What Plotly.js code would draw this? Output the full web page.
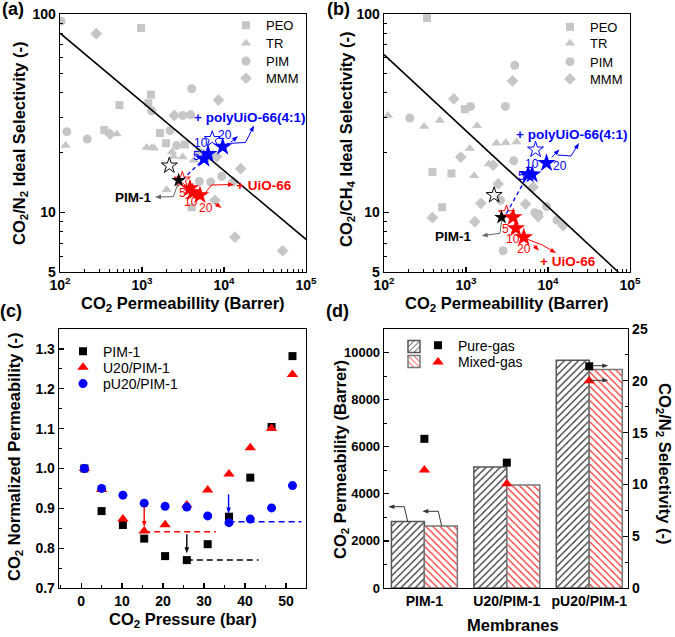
<!DOCTYPE html>
<html><head><meta charset="utf-8">
<script src="https://cdn.plot.ly/plotly-3.0.1.min.js"></script>
<style>body{margin:0;background:#fff;} #chart{width:675px;height:637px;}</style>
</head><body><div id="chart"></div>
<script>
const W = 675, H = 637;
const F = 'Arial, "Liberation Sans", sans-serif';

// ---------- Panel (a): CO2/N2 ----------
const aPEOx = [973, 1288, 530, 347, 1660, 1963, 3342, 1194, 4036];
const aPEOy = [85, 39.2, 34.7, 26, 25.1, 22.3, 22, 35.5, 10.6];
const aTRx = [117, 491, 1140, 1310, 1400, 2323, 2420, 3133, 2000, 4300];
const aTRy = [21.7, 24.8, 21.2, 21.1, 21.1, 20.2, 19.1, 19, 13, 18.3];
const aPIMx = [103, 4036, 3133, 3918, 121, 215, 2193, 2648, 1312, 5000, 6870, 9370, 6200, 5000];
const aPIMy = [92, 42, 30.8, 31, 25.5, 23.4, 25.8, 21.7, 32.5, 14.3, 14.2, 15.2, 18.8, 20];
const aMMMx = [277, 8531, 2477, 407, 8147, 15970, 13000, 7760, 13600, 51900];
const aMMMy = [79.6, 36.8, 30.8, 24.8, 19.1, 16.6, 14.3, 11.5, 7.5, 6.4];
const aBoundX = [100, 100000];
const aBoundY = [80, 7.3];
const aPIM1x = [2800], aPIM1y = [14.5];
const aRefOpenX = [2154], aRefOpenY = [17.2];
const aUiOOpenX = [3105], aUiOOpenY = [14.6];
const aUiOx = [3844, 4147, 5093], aUiOy = [13.2, 12.6, 12.2];
const aPolyOpenX = [7190], aPolyOpenY = [23.4];
const aPolyX = [5700, 6390, 9640], aPolyY = [18.6, 19.7, 21.4];
const aDashX = [3105, 5700], aDashY = [14.6, 18.6];

// ---------- Panel (b): CO2/CH4 ----------
const bPEOx = [335, 966, 389, 664, 511];
const bPEOy = [95.4, 33.1, 16, 15.7, 10.6];
const bTRx = [112, 308, 478, 1365, 2350, 3055, 4130, 1112, 1897, 1256];
const bTRy = [30.8, 27.1, 29, 27.3, 22.3, 22.4, 22.6, 21, 17.5, 15.3];
const bPIMx = [3936, 1133, 3027, 206, 3826, 2635, 9590, 6920, 7730, 12900, 2838];
const bPIMy = [55.1, 34.2, 34.2, 29.9, 18.2, 11.5, 10.7, 9.96, 9.8, 9.15, 6.4];
const bMMMx = [3690, 710, 863, 2142, 2468, 6590, 1516, 5320, 7590, 389, 1280, 15300];
const bMMMy = [46, 37.3, 19, 17.3, 13.9, 13.4, 11.1, 11, 9.5, 9.4, 8.97, 8.57];
const bBoundX = [100, 71900];
const bBoundY = [62.4, 5];
const bPIM1x = [2710], bPIM1y = [9.44];
const bRefOpenX = [2203], bRefOpenY = [12.2];
const bUiOOpenX = [3118], bUiOOpenY = [9.88];
const bUiOx = [3760, 4050, 5070], bUiOy = [9.44, 8.3, 7.48];
const bPolyOpenX = [7050], bPolyOpenY = [20.7];
const bPolyX = [5730, 6410, 9590], bPolyY = [15.5, 15.5, 17.7];
const bDashX = [3118, 5730], bDashY = [9.88, 15.5];

// ---------- Panel (c): normalized permeability ----------
const pressure = [0.8, 5.0, 10.2, 15.4, 20.5, 25.8, 30.9, 36.1, 41.3, 46.5, 51.6];
const cPIM1 = [1.000, 0.893, 0.858, 0.824, 0.780, 0.770, 0.810, 0.879, 0.977, 1.104, 1.282];
const cU20 = [1.000, 0.947, 0.873, 0.843, 0.859, 0.908, 0.946, 0.986, 1.052, 1.100, 1.236];
const cPU20 = [1.000, 0.950, 0.933, 0.913, 0.905, 0.903, 0.881, 0.864, 0.873, 0.901, 0.957];
const cRedDashX = [15.4, 32.9], cRedDashY = [0.841, 0.841];
const cBlkDashX = [25.8, 43.3], cBlkDashY = [0.770, 0.770];
const cBluDashX = [36.0, 53.8], cBluDashY = [0.866, 0.866];
// vertical arrows: pressure, start value, end value
const cRedArrow = [15.4, 0.902, 0.853];
const cBlkArrow = [25.8, 0.835, 0.787];
const cBluArrow = [36.0, 0.935, 0.887];

// ---------- Panel (d): pure vs mixed gas ----------
const membranes = ['PIM-1', 'U20/PIM-1', 'pU20/PIM-1'];
const purePerm = [2827, 5136, 9677];
const mixedPerm = [2632, 4372, 9278];
const pureSel = [14.4, 12.1, 21.4];
const mixedSel = [11.4, 10.06, 20.0];

const GRAY = '#c6c6c6';
const data = [];

function gray(x, y, xa, ya, sym, size, name, leg) {
  data.push({type: 'scatter', mode: 'markers', x: x, y: y, xaxis: xa, yaxis: ya, name: name,
    legend: leg, showlegend: true,
    marker: {symbol: sym, size: size, color: GRAY}});
}
function line(x, y, xa, ya, color, dash, width) {
  data.push({type: 'scatter', mode: 'lines', x: x, y: y, xaxis: xa, yaxis: ya, showlegend: false,
    line: {color: color, dash: dash, width: width}});
}
function pts(x, y, xa, ya, sym, size, color, lw) {
  data.push({type: 'scatter', mode: 'markers', x: x, y: y, xaxis: xa, yaxis: ya, showlegend: false,
    marker: {symbol: sym, size: size, color: color, line: {color: color, width: lw || 0}}});
}

// (a)
gray(aPEOx, aPEOy, 'x', 'y', 'square', 8, 'PEO', 'legend');
gray(aTRx, aTRy, 'x', 'y', 'triangle-up', 9, 'TR', 'legend2');
gray(aPIMx, aPIMy, 'x', 'y', 'circle', 9, 'PIM', 'legend3');
gray(aMMMx, aMMMy, 'x', 'y', 'diamond', 9, 'MMM', 'legend4');
line(aBoundX, aBoundY, 'x', 'y', '#000', 'solid', 1.6);
line(aDashX, aDashY, 'x', 'y', '#0000ff', '4px,3px', 1.3);
pts(aRefOpenX, aRefOpenY, 'x', 'y', 'star-open', 12, '#000', 1);
pts(aPolyOpenX, aPolyOpenY, 'x', 'y', 'star-open', 12, '#0000ff', 1);
pts(aUiOOpenX, aUiOOpenY, 'x', 'y', 'star-open', 12, '#ff0000', 1);
pts(aPIM1x, aPIM1y, 'x', 'y', 'star', 11, '#000');
pts(aUiOx, aUiOy, 'x', 'y', 'star', 14, '#ff0000');
pts(aPolyX, aPolyY, 'x', 'y', 'star', 14, '#0000ff');

// (b)
gray(bPEOx, bPEOy, 'x2', 'y2', 'square', 8, 'PEO', 'legend5');
gray(bTRx, bTRy, 'x2', 'y2', 'triangle-up', 9, 'TR', 'legend6');
gray(bPIMx, bPIMy, 'x2', 'y2', 'circle', 9, 'PIM', 'legend7');
gray(bMMMx, bMMMy, 'x2', 'y2', 'diamond', 9, 'MMM', 'legend8');
line(bBoundX, bBoundY, 'x2', 'y2', '#000', 'solid', 1.6);
line(bDashX, bDashY, 'x2', 'y2', '#0000ff', '4px,3px', 1.3);
pts(bRefOpenX, bRefOpenY, 'x2', 'y2', 'star-open', 12, '#000', 1);
pts(bPolyOpenX, bPolyOpenY, 'x2', 'y2', 'star-open', 12, '#0000ff', 1);
pts(bUiOOpenX, bUiOOpenY, 'x2', 'y2', 'star-open', 12, '#ff0000', 1);
pts(bPIM1x, bPIM1y, 'x2', 'y2', 'star', 11, '#000');
pts(bUiOx, bUiOy, 'x2', 'y2', 'star', 14, '#ff0000');
pts(bPolyX, bPolyY, 'x2', 'y2', 'star', 14, '#0000ff');

// (c)
line(cRedDashX, cRedDashY, 'x3', 'y3', '#ff0000', '6px,4px', 1.5);
line(cBlkDashX, cBlkDashY, 'x3', 'y3', '#000', '6px,4px', 1.5);
line(cBluDashX, cBluDashY, 'x3', 'y3', '#0000ff', '6px,4px', 1.5);
data.push({type: 'scatter', mode: 'markers', x: pressure, y: cPIM1, xaxis: 'x3', yaxis: 'y3', name: 'PIM-1',
  legend: 'legend9', marker: {symbol: 'square', size: 8, color: '#000'}});
data.push({type: 'scatter', mode: 'markers', x: pressure, y: cU20, xaxis: 'x3', yaxis: 'y3', name: 'U20/PIM-1',
  legend: 'legend10', marker: {symbol: 'triangle-up', size: 10, color: '#ff0000'}});
data.push({type: 'scatter', mode: 'markers', x: pressure, y: cPU20, xaxis: 'x3', yaxis: 'y3', name: 'pU20/PIM-1',
  legend: 'legend11', marker: {symbol: 'circle', size: 9, color: '#0000ff'}});

// (d)
data.push({type: 'bar', x: membranes, y: purePerm, xaxis: 'x4', yaxis: 'y4', name: ' ', offsetgroup: 'p',
  legend: 'legend12', showlegend: true,
  marker: {color: '#ffffff', line: {color: '#555', width: 1.5},
    pattern: {shape: '/', fgcolor: '#222', bgcolor: '#ffffff', size: 5, solidity: 0.22}}});
data.push({type: 'bar', x: membranes, y: mixedPerm, xaxis: 'x4', yaxis: 'y4', name: ' ', offsetgroup: 'm',
  legend: 'legend13', showlegend: true,
  marker: {color: '#ffffff', line: {color: '#777', width: 1.5},
    pattern: {shape: '\\', fgcolor: '#ff2020', bgcolor: '#ffffff', size: 5, solidity: 0.22}}});
data.push({type: 'scatter', mode: 'markers', x: membranes, y: pureSel, xaxis: 'x4', yaxis: 'y5', name: 'Pure-gas',
  legend: 'legend14', marker: {symbol: 'square', size: 8, color: '#000'}});
data.push({type: 'scatter', mode: 'markers', x: membranes, y: mixedSel, xaxis: 'x4', yaxis: 'y5', name: 'Mixed-gas',
  legend: 'legend15', marker: {symbol: 'triangle-up', size: 10, color: '#ff0000'}});

// ---------- axes ----------
function axis(extra) {
  return Object.assign({
    showline: true, linecolor: '#000', linewidth: 1.3, mirror: true,
    ticks: 'inside', ticklen: 5, tickwidth: 1.2, tickcolor: '#000',
    showgrid: false, zeroline: false,
    tickfont: {family: F, size: 14, color: '#000', weight: 'bold'}
  }, extra);
}
const logMinorX = [];
[100, 1000, 10000].forEach(d => { for (let k = 2; k <= 9; k++) logMinorX.push(d * k); });
const logMinorY = [6, 7, 8, 9];
for (let k = 2; k <= 9; k++) logMinorY.push(10 * k);
const minorLogX = {tickvals: logMinorX, ticks: 'inside', ticklen: 3, tickwidth: 1, tickcolor: '#000'};
const minorLogY = {tickvals: logMinorY, ticks: 'inside', ticklen: 3, tickwidth: 1, tickcolor: '#000'};
const decX = [100, 1000, 10000, 100000];
const decXText = ['10<sup>2</sup>', '10<sup>3</sup>', '10<sup>4</sup>', '10<sup>5</sup>'];
const selTicks = [5, 10, 100];

const px = v => v / W, py = v => 1 - v / H;
const cDomX = [59, 306], cDomY = [588, 329], cRangeX = [-5.4, 54.9], cRangeY = [0.7, 1.35];
const domAX = [px(60), px(306)], domBX = [px(384), px(630)];
const domTopY = [py(272), py(14)], domBotY = [py(cDomY[0]), py(cDomY[1])];

const layout = {
  width: W, height: H, margin: {l: 0, r: 0, t: 0, b: 0},
  paper_bgcolor: '#fff', plot_bgcolor: 'rgba(0,0,0,0)',
  font: {family: F, color: '#000'},
  barmode: 'group', bargap: 0.2, bargroupgap: 0,
  xaxis: axis({type: 'log', domain: domAX, range: [2, 5], anchor: 'y', tickvals: decX, ticktext: decXText, minor: minorLogX}),
  yaxis: axis({type: 'log', domain: domTopY, range: [Math.log10(5), 2], anchor: 'x', tickvals: selTicks, ticktext: ['5', '10', '100'], minor: minorLogY}),
  xaxis2: axis({type: 'log', domain: domBX, range: [2, 5], anchor: 'y2', tickvals: decX, ticktext: decXText, minor: minorLogX}),
  yaxis2: axis({type: 'log', domain: domTopY, range: [Math.log10(5), 2], anchor: 'x2', tickvals: selTicks, ticktext: ['5', '10', '100'], minor: minorLogY}),
  xaxis3: axis({domain: [px(cDomX[0]), px(cDomX[1])], range: cRangeX, anchor: 'y3', tick0: 0, dtick: 10,
    minor: {dtick: 5, tick0: 0, ticks: 'inside', ticklen: 3, tickwidth: 1, tickcolor: '#000'}}),
  yaxis3: axis({domain: domBotY, range: cRangeY, anchor: 'x3', tick0: 0.7, dtick: 0.1, tickformat: '.1f',
    minor: {dtick: 0.05, tick0: 0.7, ticks: 'inside', ticklen: 3, tickwidth: 1, tickcolor: '#000'}}),
  xaxis4: axis({domain: [px(384), px(628)], range: [-0.49, 2.47], anchor: 'y4', type: 'category', ticks: ''}),
  yaxis4: axis({domain: domBotY, range: [0, 11000], anchor: 'x4', tick0: 0, dtick: 2000, tickformat: 'd',
    tickfont: {family: F, size: 13, color: '#000', weight: 'bold'},
    minor: {dtick: 1000, tick0: 0, ticks: 'inside', ticklen: 3, tickwidth: 1, tickcolor: '#000'}}),
  yaxis5: axis({overlaying: 'y4', side: 'right', anchor: 'x4', range: [0, 25], tick0: 0, dtick: 5, mirror: false,
    minor: {dtick: 2.5, tick0: 0, ticks: 'inside', ticklen: 3, tickwidth: 1, tickcolor: '#000'}}),
  annotations: [],
  shapes: [],
  showlegend: true
};

// legends, one per entry so that rows sit where the reference has them
function leg(key, left, row, size) {
  layout[key] = {x: px(left), y: py(row), xanchor: 'left', yanchor: 'middle',
    bgcolor: 'rgba(0,0,0,0)', borderwidth: 0, font: {family: F, size: size, color: '#000'}};
}
leg('legend', 226, 25.3, 13); leg('legend2', 226, 43.3, 13); leg('legend3', 226, 61, 13); leg('legend4', 226, 78.3, 13);
leg('legend5', 550, 26.7, 13); leg('legend6', 550, 43.3, 13); leg('legend7', 550, 61.7, 13); leg('legend8', 550, 79, 13);
leg('legend9', 63, 351.7, 14); leg('legend10', 63, 367.7, 14); leg('legend11', 63, 384, 14);
leg('legend12', 394, 347, 14); leg('legend13', 394, 362, 14);
leg('legend14', 418, 345.7, 14); leg('legend15', 418, 362.3, 14);

// ---------- text ----------
const A = layout.annotations;
function T(text, x, y, opt) {
  opt = opt || {};
  A.push({xref: 'paper', yref: 'paper', x: px(x), y: py(y), text: text, showarrow: false,
    xanchor: opt.xa || 'center', yanchor: 'middle', textangle: opt.angle || 0,
    font: {family: F, size: opt.size || 14, color: opt.color || '#000', weight: opt.bold === false ? 'normal' : 'bold'}});
}
// ---------- pointer arrows (drawn as paper-space paths) ----------
const SH = layout.shapes;
function P(x, y) { return px(x).toFixed(5) + ',' + py(y).toFixed(5); }
function arrow(points, color, head, width) {
  // points: [[x,y],...] in page pixels; the head sits on the last point
  const n = points.length;
  let pts2 = points.map(p => p.slice());
  let L = 6, w = 4.6;
  if (head) {
    const [x0, y0] = points[n - 2], [x1, y1] = points[n - 1];
    const d = Math.hypot(x1 - x0, y1 - y0), ux = (x1 - x0) / d, uy = (y1 - y0) / d;
    pts2[n - 1] = [x1 - ux * (L - 1), y1 - uy * (L - 1)];
    const bx = x1 - ux * L, by = y1 - uy * L;
    SH.push({type: 'path', xref: 'paper', yref: 'paper', layer: 'above',
      path: 'M' + P(x1, y1) + ' L' + P(bx - uy * w / 2, by + ux * w / 2) + ' L' + P(bx + uy * w / 2, by - ux * w / 2) + ' Z',
      fillcolor: color, line: {width: 0}});
  }
  SH.push({type: 'path', xref: 'paper', yref: 'paper', layer: 'above',
    path: 'M' + pts2.map(p => P(p[0], p[1])).join(' L'), fillcolor: 'rgba(0,0,0,0)',
    line: {color: color, width: width || 1}});
}
// data -> page pixel for panel (c)
const cx = v => cDomX[0] + (v - cRangeX[0]) / (cRangeX[1] - cRangeX[0]) * (cDomX[1] - cDomX[0]);
const cy = v => cDomY[0] - (v - cRangeY[0]) / (cRangeY[1] - cRangeY[0]) * (cDomY[0] - cDomY[1]);

// panel letters
T('(a)', 13, 9, {size: 18}); T('(b)', 338, 9, {size: 18});
T('(c)', 11, 311, {size: 18}); T('(d)', 337, 311, {size: 18});

// axis titles
const TS = 16.5;
T('CO<sub>2</sub> Permeabillity (Barrer)', 183, 304, {size: TS});
T('CO<sub>2</sub>/N<sub>2</sub> Ideal Selectivity (-)', 20, 143, {size: TS, angle: -90});
T('CO<sub>2</sub> Permeabillity (Barrer)', 507, 304, {size: TS});
T('CO<sub>2</sub>/CH<sub>4</sub> Ideal Selectivity (-)', 347, 140, {size: TS, angle: -90});
T('CO<sub>2</sub> Pressure (bar)', 183, 620, {size: TS});
T('CO<sub>2</sub> Normalized Permeability (-)', 15, 457, {size: TS, angle: -90});
T('Membranes', 513, 625, {size: TS});
T('CO<sub>2</sub> Permeability (Barrer)', 341, 460, {size: TS, angle: -90});
T('CO<sub>2</sub>/N<sub>2</sub> Selectivity (-)', 664, 463, {size: TS, angle: 90});

// panel (a) labels and arrows
T('+ polyUiO-66(4:1)', 249, 117.3, {size: 13.5, color: '#0000ff'});
T('+ UiO-66', 264, 185, {size: 13.5, color: '#ff0000'});
T('PIM-1', 153, 197, {size: 13.5, xa: 'right'});
T('5', 182.7, 193.3, {size: 12, color: '#ff0000', bold: false});
T('10', 190.7, 202.3, {size: 12, color: '#ff0000', bold: false});
T('20', 205.7, 208.3, {size: 12, color: '#ff0000', bold: false});
T('5', 196.3, 156, {size: 12, color: '#0000ff', bold: false});
T('10', 201.3, 142.7, {size: 12, color: '#0000ff', bold: false});
T('20', 225.3, 134.7, {size: 12, color: '#0000ff', bold: false});
arrow([[178.3, 182.7], [173.3, 196.7], [155, 197]], '#666', true);
arrow([[202.7, 196], [211.7, 185], [234, 184.5]], '#ff0000', true);
arrow([[215, 203.3], [221.5, 208]], '#ff0000', true);
arrow([[226.7, 143.5], [245.5, 142.5], [254, 125.5]], '#0000ff', true);
arrow([[231, 142], [238, 136]], '#0000ff', true);

// panel (b) labels and arrows
T('+ polyUiO-66(4:1)', 571, 135, {size: 13.5, color: '#0000ff'});
T('+ UiO-66', 567.5, 261, {size: 13.5, color: '#ff0000'});
T('PIM-1', 473, 236, {size: 13.5, xa: 'right'});
T('5', 521, 175.7, {size: 12, color: '#0000ff', bold: false});
T('10', 532.3, 164.3, {size: 12, color: '#0000ff', bold: false});
T('20', 560, 165.7, {size: 12, color: '#0000ff', bold: false});
T('5', 505.7, 229.3, {size: 12, color: '#ff0000', bold: false});
T('10', 512.7, 239.3, {size: 12, color: '#ff0000', bold: false});
T('20', 524, 249.3, {size: 12, color: '#ff0000', bold: false});
arrow([[501.7, 220], [500, 233.3], [481.7, 235.7]], '#666', true);
arrow([[533.3, 245], [539, 250.5]], '#ff0000', true);
arrow([[526.7, 239], [542.3, 245], [556, 253]], '#ff0000', true);
arrow([[551.7, 157.3], [559.5, 149.5]], '#0000ff', true);
arrow([[557.7, 155], [571, 156], [579, 143]], '#0000ff', true);

// panel (c) arrows
[[cRedArrow, '#ff0000'], [cBlkArrow, '#000'], [cBluArrow, '#0000ff']].forEach(([a, col]) => {
  arrow([[cx(a[0]), cy(a[1])], [cx(a[0]), cy(a[2])]], col, true, 1.4);
});

// panel (d) arrows
arrow([[407.7, 521.7], [404.3, 506.7], [388.3, 506.7]], '#333', true);
arrow([[441.7, 526.3], [438.3, 511.3], [422.3, 511.3]], '#333', true);
arrow([[593.3, 365.7], [608.3, 365.7]], '#333', true);
arrow([[590, 380.3], [608.3, 380.3]], '#333', true);

Plotly.newPlot('chart', data, layout, {displayModeBar: false, staticPlot: true});
</script>
</body></html>
